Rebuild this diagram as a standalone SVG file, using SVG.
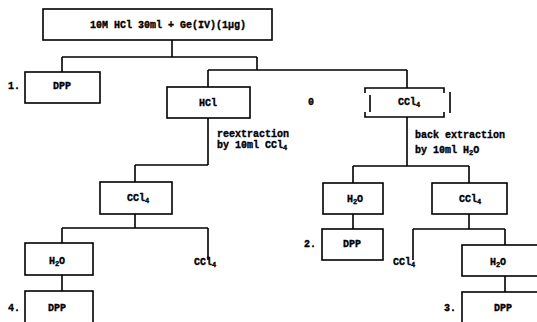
<svg xmlns="http://www.w3.org/2000/svg" width="537" height="322" viewBox="0 0 537 322">
<style>
.box{fill:#fff;stroke:#000;stroke-width:1.6}
.ln{fill:none;stroke:#000;stroke-width:1.6}
text{font-family:"Liberation Mono","DejaVu Sans Mono",monospace;font-weight:bold;font-size:10px;fill:#000;stroke:#000;stroke-width:0.35}
.c{text-anchor:middle}
.sub{font-size:7px}
</style>
<rect width="537" height="322" fill="#fff"/>
<g id="connectors">
<path class="ln" d="M172 40V57M62 57H257M62 57V72M257 57V70M208 70H407M208 70V87M407 70V88"/>
<path class="ln" d="M208 118V165M135 165H208M135 165V182M135 214V228M62 228H208M62 228V243M208 228V260M62 275V291"/>
<path class="ln" d="M407 117V166M353 166H469M353 166V183M469 166V183M353 214V229M469 214V229M413 229H505M413 229V260M505 229V245M505 276V292"/>
</g>
<g id="n-top"><rect class="box" x="43" y="9" width="229" height="31"/><text class="c" x="168" y="28">10M HCl 30ml + Ge(IV)(1μg)</text></g>
<g id="n-dpp1"><rect class="box" x="25" y="72" width="75" height="31"/><text class="c" x="62" y="89">DPP</text><text x="8" y="89">1.</text></g>
<g id="n-hcl"><rect class="box" x="167" y="87" width="83" height="31"/><text class="c" x="208" y="106">HCl</text></g>
<g id="n-zero"><text class="c" x="311" y="105">0</text></g>
<g id="n-ccl4-top">
<path class="ln" d="M365 93V88H444V93M365 112V117H444V112M370 95V112M450 92V113"/>
<text class="c" x="409" y="105">CCl<tspan class="sub" dy="2">4</tspan></text>
</g>
<g id="lbl-re"><text x="217" y="137">reextraction</text><text x="217" y="148">by 10ml CCl<tspan class="sub" dy="2">4</tspan></text></g>
<g id="lbl-back"><text x="415" y="138">back extraction</text><text x="415" y="153">by 10ml H<tspan class="sub" dy="2">2</tspan><tspan dy="-2">O</tspan></text></g>
<g id="n-ccl4-left"><rect class="box" x="100" y="182" width="72" height="32"/><text class="c" x="138" y="201">CCl<tspan class="sub" dy="2">4</tspan></text></g>
<g id="n-h2o-mid"><rect class="box" x="323" y="183" width="60" height="31"/><text class="c" x="355" y="202">H<tspan class="sub" dy="2">2</tspan><tspan dy="-2">O</tspan></text></g>
<g id="n-ccl4-right"><rect class="box" x="432" y="183" width="75" height="31"/><text class="c" x="470" y="202">CCl<tspan class="sub" dy="2">4</tspan></text></g>
<g id="n-dpp2"><rect class="box" x="322" y="229" width="61" height="31"/><text class="c" x="352" y="247">DPP</text><text x="304" y="247">2.</text></g>
<g id="n-h2o-left"><rect class="box" x="25" y="243" width="68" height="32"/><text class="c" x="57" y="264">H<tspan class="sub" dy="2">2</tspan><tspan dy="-2">O</tspan></text></g>
<g id="n-ccl4-out1"><text class="c" x="205" y="265">CCl<tspan class="sub" dy="2">4</tspan></text></g>
<g id="n-ccl4-out2"><text class="c" x="404" y="265">CCl<tspan class="sub" dy="2">4</tspan></text></g>
<g id="n-h2o-right"><rect class="box" x="462" y="245" width="90" height="31"/><text class="c" x="498" y="265">H<tspan class="sub" dy="2">2</tspan><tspan dy="-2">O</tspan></text></g>
<g id="n-dpp4"><rect class="box" x="25" y="291" width="68" height="40"/><text class="c" x="57" y="311">DPP</text><text x="8" y="311">4.</text></g>
<g id="n-dpp3"><rect class="box" x="462" y="292" width="90" height="40"/><text class="c" x="503" y="311">DPP</text><text x="444" y="311">3.</text></g>
</svg>
